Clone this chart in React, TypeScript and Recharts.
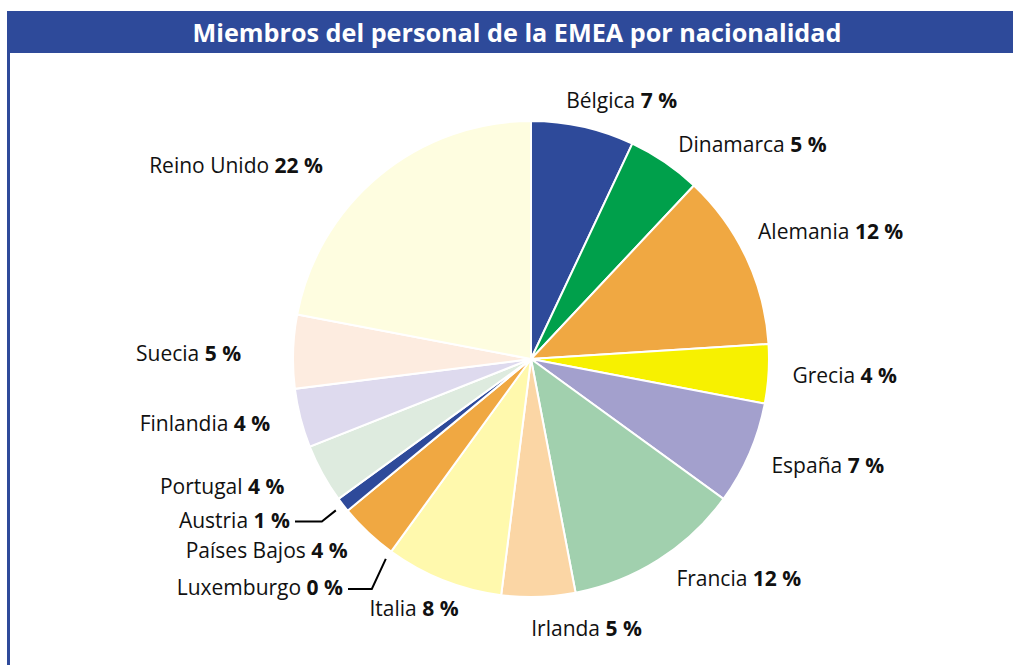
import { PieChart, Pie, Cell } from "recharts";

const countries = [
  "Bélgica", "Dinamarca", "Alemania", "Grecia", "España", "Francia", "Irlanda", "Italia",
  "Luxemburgo", "Países Bajos", "Austria", "Portugal", "Finlandia", "Suecia", "Reino Unido",
];
const shares = [7, 5, 12, 4, 7, 12, 5, 8, 0, 4, 1, 4, 4, 5, 22];
const colors = [
  "#2e4a9a", "#00a04b", "#f0a842", "#f7f100", "#a3a0cd", "#a1d0ae", "#fbd6a5", "#fff9ad",
  "#f0a842", "#f0a842", "#2e4a9a", "#deebdf", "#dedaee", "#fdece0", "#fefde0",
];

const data = countries.map((name, i) => ({ name, value: shares[i], color: colors[i] }));

// hand placement tweaks for labels (dx, dy)
const nudge: Record<string, [number, number]> = {
  "Bélgica": [-22, -3],
  "Dinamarca": [0, 2],
  "Alemania": [-10, -16],
  "Grecia": [0, 0],
  "España": [0, 2],
  "Francia": [5, -2],
  "Irlanda": [-8, 7],
  "Italia": [24, 5],
  "Luxemburgo": [-34, 16],
  "Países Bajos": [-4, 0],
  "Austria": [-34, 0],
  "Portugal": [-17, 1],
  "Finlandia": [-7, -1],
  "Suecia": [-28, 2],
  "Reino Unido": [-41, 8],
};
const withLeader = ["Austria", "Luxemburgo"];

const RADIAN = Math.PI / 180;
const FONT = "'Open Sans', 'Noto Sans', sans-serif";

function renderLabel(props: any) {
  const { cx, cy, midAngle, outerRadius, name, value } = props;
  const cos = Math.cos(-midAngle * RADIAN);
  const sin = Math.sin(-midAngle * RADIAN);
  const [dx, dy] = nudge[name] || [0, 0];
  const r = outerRadius + 24;
  const x = cx + r * cos + dx;
  const y = cy + r * sin + dy;
  const anchor = cos >= 0 ? "start" : "end";
  let leader = null;
  if (withLeader.includes(name)) {
    const px = cx + (outerRadius + 9) * cos;
    const py = cy + (outerRadius + 9) * sin;
    const ly = y + 2;
    const ex = px - 14;
    leader = (
      <polyline
        points={`${x + 5},${ly} ${ex},${ly} ${px},${py}`}
        fill="none"
        stroke="#000"
        strokeWidth={2}
      />
    );
  }
  return (
    <g key={`lbl-${name}`}>
      {leader}
      <text
        x={x}
        y={y}
        textAnchor={anchor}
        dominantBaseline="central"
        fill="#111"
        fontFamily={FONT}
        fontSize={21}
      >
        <tspan>{name} </tspan>
        <tspan fontWeight="bold">{value} %</tspan>
      </text>
    </g>
  );
}

export default function App() {
  return (
    <div
      style={{
        position: "absolute",
        left: 0,
        top: 0,
        width: 1013,
        height: 665,
        background: "#fff",
        overflow: "hidden",
      }}
    >
      <div
        style={{
          position: "absolute",
          left: 7,
          top: 11,
          width: 1006,
          height: 42,
          background: "#2e4a9a",
          color: "#fff",
          fontFamily: FONT,
          fontWeight: "bold",
          fontSize: 25.2,
          lineHeight: "42px",
          textAlign: "center",
          paddingLeft: 14,
          boxSizing: "border-box",
        }}
      >
        Miembros del personal de la EMEA por nacionalidad
      </div>
      <div
        style={{
          position: "absolute",
          left: 7,
          top: 53,
          width: 3,
          height: 612,
          background: "#2e4a9a",
        }}
      />
      <div style={{ position: "absolute", left: 0, top: 0 }}>
        <PieChart width={1013} height={665} margin={{ top: 0, right: 0, bottom: 0, left: 0 }}>
          <Pie
            data={data}
            dataKey="value"
            nameKey="name"
            cx={531}
            cy={359}
            outerRadius={238}
            startAngle={90}
            endAngle={-270}
            stroke="#fff"
            strokeWidth={2}
            label={renderLabel}
            labelLine={false}
            isAnimationActive={false}
          >
            {data.map((entry, index) => (
              <Cell key={`cell-${index}`} fill={entry.color} />
            ))}
          </Pie>
        </PieChart>
      </div>
    </div>
  );
}
